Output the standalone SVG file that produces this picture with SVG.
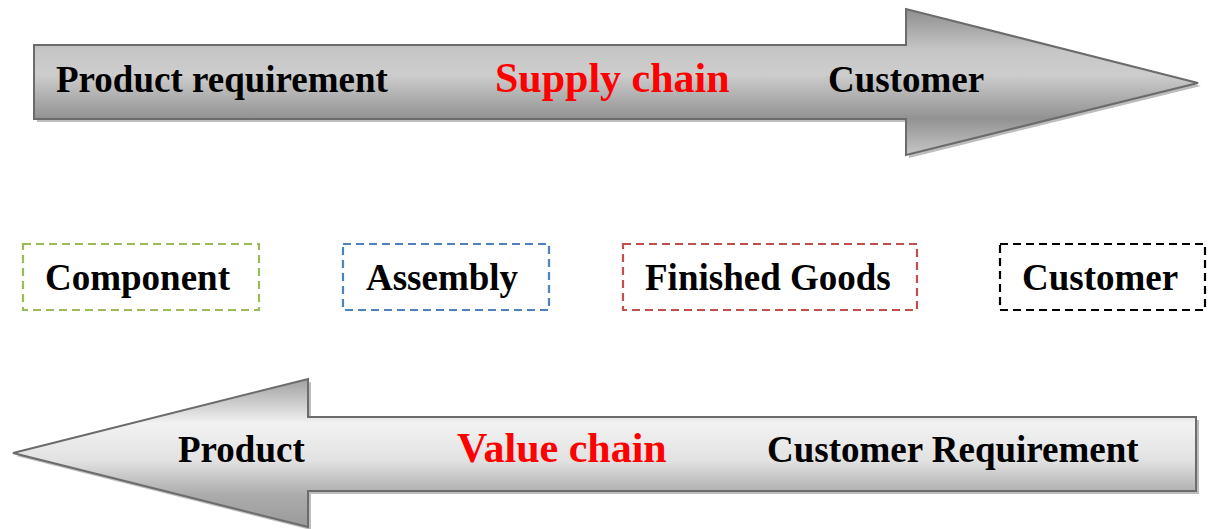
<svg xmlns="http://www.w3.org/2000/svg" width="1211" height="529" viewBox="0 0 1211 529">
<defs>
<linearGradient id="gTop" gradientUnits="userSpaceOnUse" x1="0" y1="9" x2="0" y2="155">
<stop offset="0" stop-color="#8e8e8e"/>
<stop offset="0.28" stop-color="#c6c6c6"/>
<stop offset="0.45" stop-color="#cdcdcd"/>
<stop offset="0.75" stop-color="#929292"/>
<stop offset="1" stop-color="#c6c6c6"/>
</linearGradient>
<linearGradient id="gBot" gradientUnits="userSpaceOnUse" x1="0" y1="379" x2="0" y2="527">
<stop offset="0" stop-color="#a0a0a0"/>
<stop offset="0.3" stop-color="#f2f2f2"/>
<stop offset="0.55" stop-color="#e2e2e2"/>
<stop offset="0.78" stop-color="#acacac"/>
<stop offset="1" stop-color="#9a9a9a"/>
</linearGradient>
<style>
.arrow{stroke:#6b6b6b;stroke-width:2}
.shadow{fill:#bdbdbd}
.t{font-family:"Liberation Serif","Times New Roman",serif;font-weight:bold;font-size:37px;fill:#000}
.red{font-size:42px;fill:#ff0000}
.box{fill:none;stroke-width:2.2;stroke-dasharray:8 5}
</style>
</defs>
<g id="supply-chain">
<polygon class="shadow" points="37,48 909,48 909,12 1201,86 909,158 909,122 37,122"/>
<polygon class="arrow" fill="url(#gTop)" points="34,45 906,45 906,9 1198,83 906,155 906,119 34,119"/>
<text class="t" x="56" y="92">Product requirement</text>
<text class="t red" x="495" y="92">Supply chain</text>
<text class="t" x="828" y="92">Customer</text>
</g>
<g id="component">
<rect class="box" stroke="#9bbb59" x="23" y="244" width="236" height="66"/>
<text class="t" x="45" y="290">Component</text>
</g>
<g id="assembly">
<rect class="box" stroke="#4f81bd" x="343" y="244" width="206" height="66"/>
<text class="t" x="366" y="290">Assembly</text>
</g>
<g id="finished-goods">
<rect class="box" stroke="#c0504d" x="623" y="244" width="294" height="66"/>
<text class="t" x="645" y="290">Finished Goods</text>
</g>
<g id="customer">
<rect class="box" stroke="#000000" x="1000" y="244" width="205" height="66"/>
<text class="t" x="1022" y="290">Customer</text>
</g>
<g id="value-chain">
<polygon class="shadow" points="16,456 311,382 311,420 1199,420 1199,494 311,494 311,530"/>
<polygon class="arrow" fill="url(#gBot)" points="13,453 308,379 308,417 1196,417 1196,491 308,491 308,527"/>
<text class="t" x="178" y="462">Product</text>
<text class="t red" x="457" y="462">Value chain</text>
<text class="t" x="767" y="462">Customer Requirement</text>
</g>
<g id="connectors"></g>
</svg>
